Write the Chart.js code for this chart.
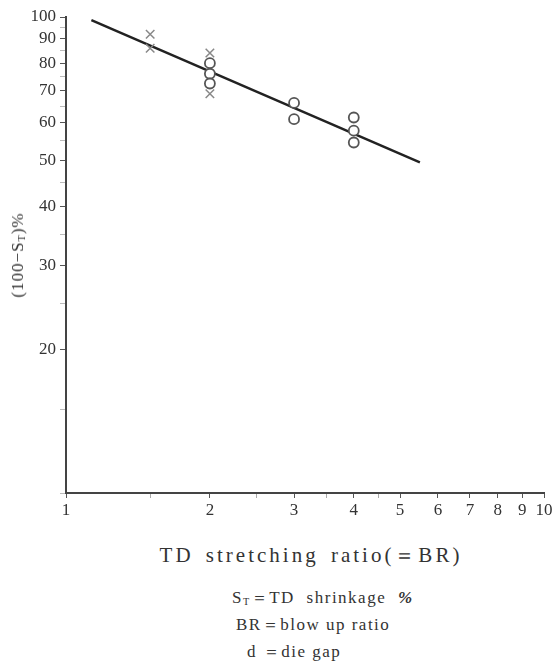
<!DOCTYPE html>
<html>
<head>
<meta charset="utf-8">
<script src="https://cdn.jsdelivr.net/npm/chart.js@4.4.1/dist/chart.umd.min.js"></script>
<style>
  body { margin: 0; background: #fff; }
  #wrap { position: relative; width: 555px; height: 661px; font-family: "Liberation Serif", "Times New Roman", "DejaVu Serif", serif; color: #333; }
  #box { position: absolute; left: 0; top: 0; width: 555px; height: 530px; }
  .ytitle { position: absolute; left: 18px; top: 255px; transform: translate(-50%, -50%) rotate(-90deg); font-size: 17px; letter-spacing: 1px; white-space: nowrap; }
  .xtitle { position: absolute; left: 0; width: 622px; top: 543px; text-align: center; font-size: 21px; line-height: 24px; letter-spacing: 3px; word-spacing: 4px; white-space: nowrap; }
  .note { position: absolute; font-size: 17px; line-height: 20px; letter-spacing: 1.5px; white-space: nowrap; }
  sub { font-size: 60%; vertical-align: -2px; }
</style>
</head>
<body>
<div id="wrap">
  <div id="box"><canvas id="chart"></canvas></div>
  <div class="ytitle">(100−S<sub>T</sub>)%</div>
  <div class="xtitle">TD stretching ratio(＝BR)</div>
  <div class="note" style="left:232px; top:588px; word-spacing:6px;">S<sub>T</sub>＝TD shrinkage <b><i>%</i></b></div>
  <div class="note" style="left:236px; top:615px;">BR＝blow up ratio</div>
  <div class="note" style="left:247px; top:642px;">d ＝die gap</div>
</div>
<script>
const circleX = [2, 2, 2, 3, 3, 4, 4, 4];
const circleY = [80, 76, 72.5, 66, 61, 61.5, 57.7, 54.5];
const crossX = [1.5, 1.5, 2, 2];
const crossY = [92, 86, 84, 69];
// fitted straight line
const fitX = [1.13, 5.5];
const fitY = [98.5, 49.5];
// axis ticks
const xTicks = [1, 1.5, 2, 2.5, 3, 3.5, 4, 4.5, 5, 6, 7, 8, 9, 10];
const xLabels = [1, 2, 3, 4, 5, 6, 7, 8, 9, 10];
const yTicks = [10, 15, 20, 25, 30, 35, 40, 45, 50, 55, 60, 65, 70, 75, 80, 85, 90, 95, 100];
const yLabels = [20, 30, 40, 50, 60, 70, 80, 90, 100];

const pts = (xs, ys) => xs.map((x, i) => ({ x: x, y: ys[i] }));
const font = { family: '"Liberation Serif", "Times New Roman", "DejaVu Serif", serif', size: 17 };

new Chart(document.getElementById('chart'), {
  data: {
    datasets: [
      {
        type: 'scatter',
        data: pts(circleX, circleY),
        pointStyle: 'circle',
        pointRadius: 5,
        borderColor: '#555',
        backgroundColor: '#fff',
        borderWidth: 1.8
      },
      {
        type: 'scatter',
        data: pts(crossX, crossY),
        pointStyle: 'crossRot',
        pointRadius: 6,
        borderColor: '#888',
        borderWidth: 1.5
      },
      {
        type: 'line',
        data: pts(fitX, fitY),
        borderColor: '#222',
        borderWidth: 2.5,
        pointRadius: 0,
        fill: false
      }
    ]
  },
  options: {
    responsive: true,
    maintainAspectRatio: false,
    animation: false,
    layout: { padding: { top: 17, right: 11, left: 0, bottom: 0 } },
    plugins: { legend: { display: false }, tooltip: { enabled: false } },
    scales: {
      x: {
        type: 'logarithmic',
        min: 1,
        max: 10,
        afterFit: s => { s.height = 37; },
        afterBuildTicks: s => { s.ticks = xTicks.map(v => ({ value: v })); },
        ticks: {
          autoSkip: false,
          maxRotation: 0,
          padding: 2,
          color: '#333',
          font: font,
          callback: v => xLabels.includes(v) ? String(v) : ''
        },
        grid: {
          drawOnChartArea: false,
          tickLength: 5,
          tickColor: c => xLabels.includes(c.tick && c.tick.value) ? '#555' : '#aaa'
        },
        border: { color: '#444', width: 2 }
      },
      y: {
        type: 'logarithmic',
        min: 10,
        max: 100,
        afterFit: s => { s.width = 66; },
        afterBuildTicks: s => { s.ticks = yTicks.map(v => ({ value: v })); },
        ticks: {
          autoSkip: false,
          padding: 4,
          color: '#333',
          font: font,
          callback: v => yLabels.includes(v) ? String(v) : ''
        },
        grid: {
          drawOnChartArea: false,
          tickLength: 6,
          tickColor: c => yLabels.includes(c.tick && c.tick.value) ? '#555' : '#bbb'
        },
        border: { color: '#444', width: 2 }
      }
    }
  }
});
</script>
</body>
</html>
